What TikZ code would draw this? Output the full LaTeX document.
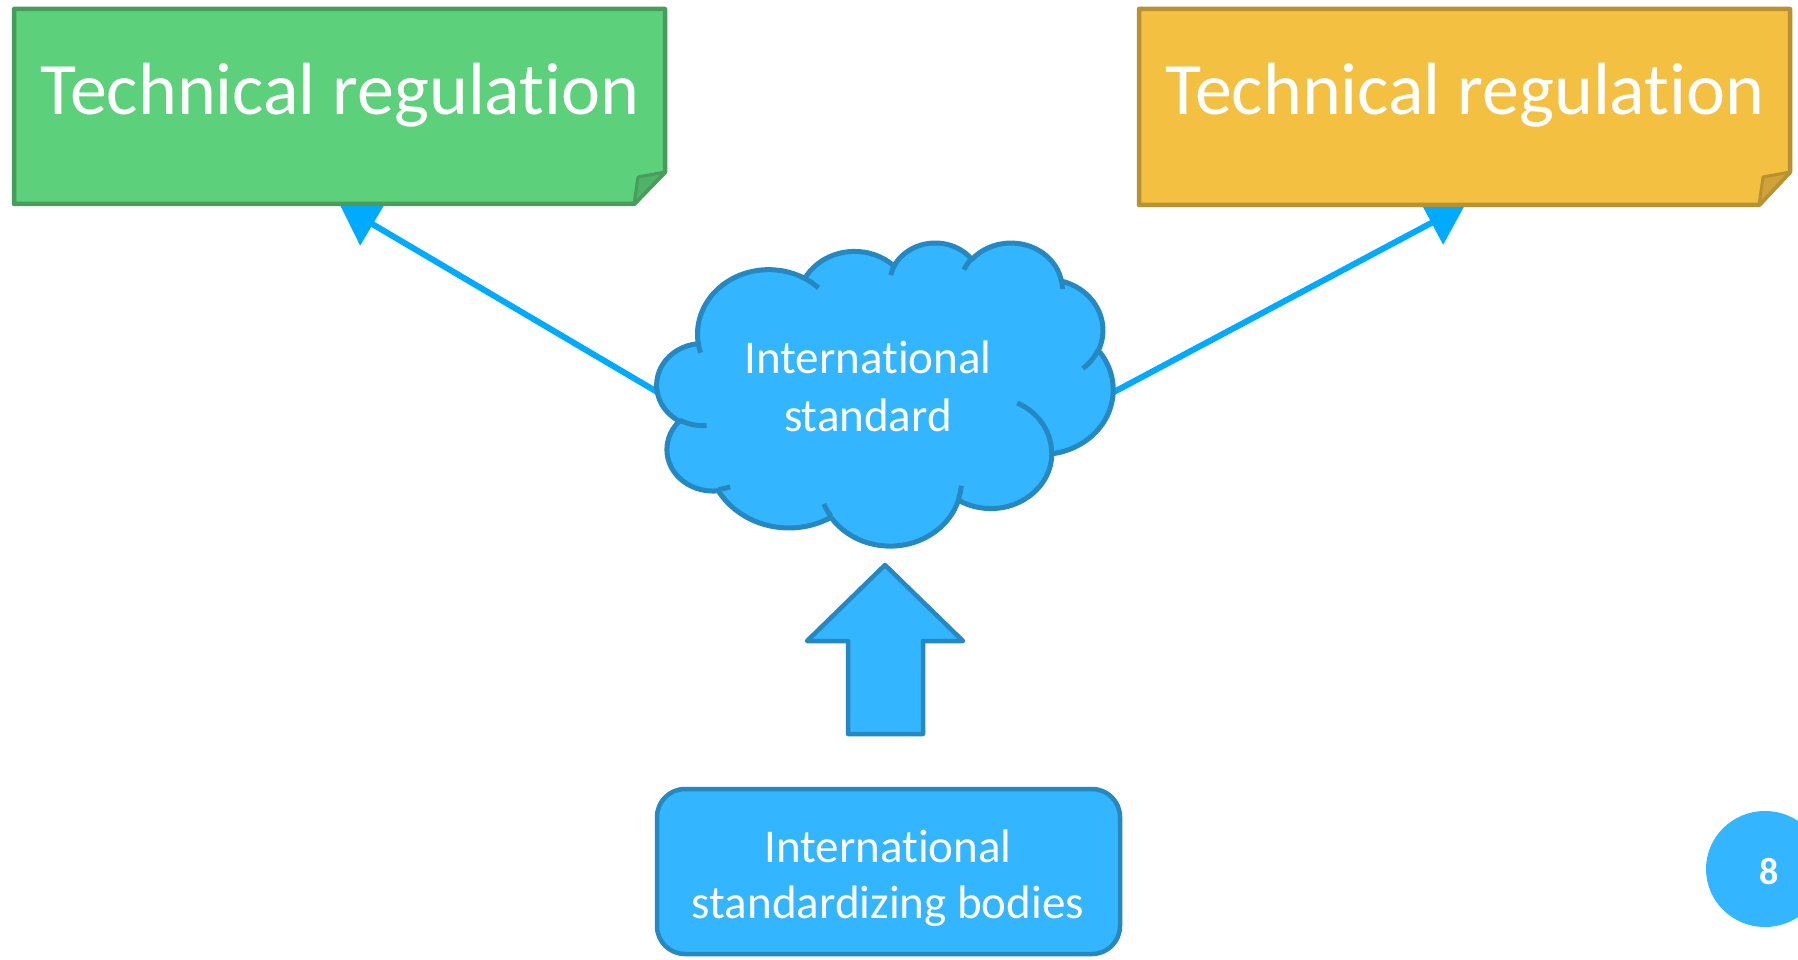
\documentclass[tikz,border=0pt]{standalone}
\usepackage{fontspec}
\setmainfont{Carlito}[Ligatures=NoCommon]
\usetikzlibrary{arrows.meta}
\definecolor{greenFill}{RGB}{92,208,122}
\definecolor{greenLine}{RGB}{71,157,92}
\definecolor{greenFold}{RGB}{80,178,104}
\definecolor{yellowFill}{RGB}{243,192,66}
\definecolor{yellowLine}{RGB}{185,145,48}
\definecolor{yellowFold}{RGB}{207,163,58}
\definecolor{blueFill}{RGB}{51,181,255}
\definecolor{blueLine}{RGB}{38,136,192}
\definecolor{arrowBlue}{RGB}{0,170,255}
\begin{document}
\begin{tikzpicture}[x=1pt,y=-1pt,
  conn/.style={draw=arrowBlue, line width=6pt, -{Triangle[width=48pt,length=38pt]}},
  notebox/.style={line width=4.5pt, line join=round},
  foldpart/.style={line width=3pt, line join=round},
  bluebox/.style={fill=blueFill, draw=blueLine, line width=4.5pt, line join=round},
  txt/.style={text=white, inner sep=0pt, anchor=base},
  bigfont/.style={font=\fontsize{74}{80}\selectfont},
  midfont/.style={font=\fontsize{47}{56}\selectfont}]
\useasboundingbox (0,0) rectangle (1798,960);
\clip (0,0) rectangle (1798,960);

% named anchor points
\coordinate (greenS) at (340,205);
\coordinate (yellowS) at (1465,205);
\coordinate (cloudL) at (659,393);
\coordinate (cloudR) at (1112,393);

% connectors (drawn first, partly hidden by the boxes)
\draw[conn] (cloudL) -- (greenS);
\draw[conn] (cloudR) -- (yellowS);

% green folded note
\path[notebox, fill=greenFill, draw=greenLine]
  (14,9) -- (665,9) -- (665,172) -- (634,204) -- (14,204) -- cycle;
\path[foldpart, fill=greenFold, draw=greenLine]
  (665,172) -- (638,177) -- (634,204) -- cycle;
\node[txt, bigfont] (greenLabel) at (340,115) {Technical regulation};

% yellow folded note
\path[notebox, fill=yellowFill, draw=yellowLine]
  (1139,9) -- (1790,9) -- (1790,172) -- (1759,205) -- (1139,205) -- cycle;
\path[foldpart, fill=yellowFold, draw=yellowLine]
  (1790,172) -- (1763,177) -- (1759,205) -- cycle;
\node[txt, bigfont] (yellowLabel) at (1465,115) {Technical regulation};

% cloud
\begin{scope}[shift={(657,242)}, xscale=1.05556, yscale=-0.70139, x=1pt, y=1pt]
\path[bluebox, line width=5pt] (39,143.7)
 arc[start angle=-187.747, end angle=-59.634, x radius=67.53, y radius=91.90]
 arc[start angle=-152.044, end angle=-45.433, x radius=53.33, y radius=72.67]
 arc[start angle=-153.488, end angle=-37.345, x radius=43.65, y radius=59.45]
 arc[start angle=-139.710, end angle=-10.211, x radius=48.57, y radius=65.95]
 arc[start angle=-74.768, end angle=23.209, x radius=53.33, y radius=72.73]
 arc[start angle=-37.534, end angle=81.862, x radius=67.75, y radius=92.20]
 arc[start angle=0.4596, end angle=121.978, x radius=57.85, y radius=78.67]
 arc[start angle=16.844, end angle=146.234, x radius=67.52, y radius=92.15]
 arc[start angle=58.984, end angle=150.200, x radius=77.20, y radius=105.43]
 arc[start angle=-276.694, end angle=-136.887, x radius=43.60, y radius=59.18]
 arc[start angle=-239.647, end angle=-95.887, x radius=43.45, y radius=59.45]
 -- cycle;
\path[draw=blueLine, line width=5pt]
 (46.93,261.77) arc[start angle=85.546, end angle=120.353, x radius=43.45, y radius=59.45]
 (69.28,348.99) arc[start angle=68.234, end angle=83.306, x radius=43.60, y radius=59.18]
 (164.78,390.90) arc[start angle=146.234, end angle=158.473, x radius=67.52, y radius=92.15]
 (288.27,347.51) arc[start angle=4.737, end angle=16.844, x radius=67.52, y radius=92.15]
 (341.29,229.54) arc[start angle=-64.029, end angle=0.4596, x radius=57.85, y radius=78.67]
 (417.98,153.54) arc[start angle=23.209, end angle=49.640, x radius=53.33, y radius=72.73]
 (383.24,54.26) arc[start angle=-10.211, end angle=0.8209, x radius=48.57, y radius=65.95]
 (290.78,39.52) arc[start angle=-156.284, end angle=-139.710, x radius=48.57, y radius=65.95]
 (221.41,47.20) arc[start angle=-167.727, end angle=-153.488, x radius=43.65, y radius=59.45]
 (140.00,51.92) arc[start angle=-59.634, end angle=-45.728, x radius=67.53, y radius=91.90]
 (41.27,157.89) arc[start angle=163.196, end angle=172.253, x radius=67.53, y radius=91.90];
\end{scope}
\node[txt, midfont] (cloudTxtA) at (868,373) {International};
\node[txt, midfont] (cloudTxtB) at (868,431) {standard};

% block arrow up
\path[bluebox] (885,565) -- (963,641) -- (923,641) -- (923,734) -- (848,734) -- (848,641) -- (807,641) -- cycle;

% bottom box
\path[bluebox, rounded corners=28pt] (657,789) rectangle (1120,954);
\node[txt, midfont] (bodiesTxtA) at (888,862) {International};
\node[txt, midfont] (bodiesTxtB) at (888,918) {standardizing bodies};

% page number badge
\path[fill=blueFill] (1765,869) ellipse [x radius=59, y radius=58];
\node[text=white, inner sep=0pt, font=\fontsize{38}{40}\selectfont\bfseries] (pageNum) at (1769,872) {8};
\end{tikzpicture}
\end{document}
